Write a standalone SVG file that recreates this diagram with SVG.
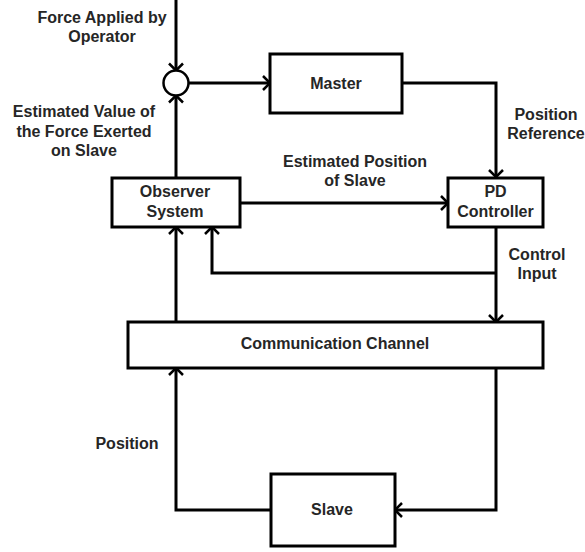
<svg xmlns="http://www.w3.org/2000/svg" width="585" height="552" viewBox="0 0 585 552">
<defs>
<style>
.box{fill:#fff;stroke:#000;stroke-width:3}
.lbl{font-family:"Liberation Sans",Arial,sans-serif;font-weight:bold;font-size:16px;fill:#262626;text-anchor:middle}
.wire{fill:none;stroke:#000;stroke-width:3;marker-end:url(#arr)}
</style>
<marker id="arr" markerUnits="userSpaceOnUse" viewBox="-10 -10 12 20" refX="0" refY="0" markerWidth="12" markerHeight="20" orient="auto" overflow="visible">
<path d="M-7,-7 L0,0 L-7,7" fill="none" stroke="#000" stroke-width="2.5"/>
</marker>
</defs>
<rect width="585" height="552" fill="#fff"/>
<g id="connectors">
<path class="wire" d="M176,0 V70.5"/>
<path class="wire" d="M188.5,83 H270"/>
<path class="wire" d="M176,178 V95.5"/>
<path class="wire" d="M402,83 H496 V177"/>
<path class="wire" d="M240,203 H448"/>
<path class="wire" d="M496,227 V322"/>
<path class="wire" d="M496,273 H212 V227"/>
<path class="wire" d="M176,322 V227"/>
<path class="wire" d="M271,510 H176 V368"/>
<path class="wire" d="M496,368 V510 H395"/>
</g>
<g id="sum">
<circle cx="176" cy="83" r="12.5" fill="#fff" stroke="#000" stroke-width="2.5"/>
</g>
<g id="master">
<rect class="box" x="270" y="54" width="132" height="59"/>
<text class="lbl" x="336" y="89">Master</text>
</g>
<g id="pd">
<rect class="box" x="448" y="178" width="95" height="49"/>
<text class="lbl" x="495.5" y="197">PD</text>
<text class="lbl" x="495.5" y="217">Controller</text>
</g>
<g id="observer">
<rect class="box" x="112" y="178" width="128" height="49"/>
<text class="lbl" x="175" y="197">Observer</text>
<text class="lbl" x="175" y="217">System</text>
</g>
<g id="comm">
<rect class="box" x="128" y="322" width="415" height="46"/>
<text class="lbl" x="335" y="349">Communication Channel</text>
</g>
<g id="slave">
<rect class="box" x="271" y="474" width="124" height="72"/>
<text class="lbl" x="332" y="515">Slave</text>
</g>
<g id="labels">
<text class="lbl" x="102" y="23">Force Applied by</text>
<text class="lbl" x="102" y="42">Operator</text>
<text class="lbl" x="84" y="117">Estimated Value of</text>
<text class="lbl" x="84" y="137">the Force Exerted</text>
<text class="lbl" x="84" y="156">on Slave</text>
<text class="lbl" x="546" y="120">Position</text>
<text class="lbl" x="546" y="139">Reference</text>
<text class="lbl" x="355" y="167">Estimated Position</text>
<text class="lbl" x="355" y="186">of Slave</text>
<text class="lbl" x="537" y="260">Control</text>
<text class="lbl" x="537" y="279">Input</text>
<text class="lbl" x="127" y="449">Position</text>
</g>
</svg>
